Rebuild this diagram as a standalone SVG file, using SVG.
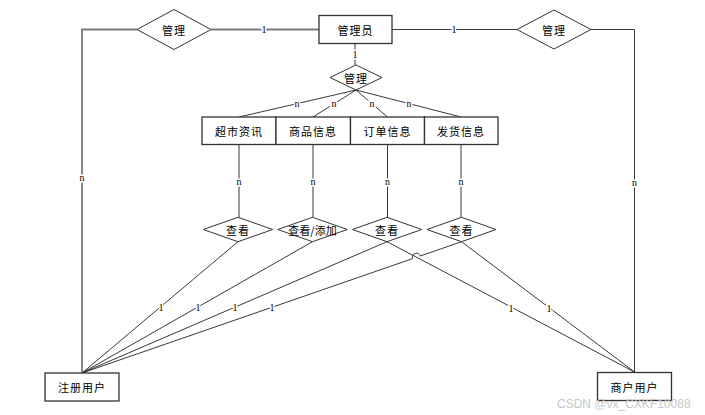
<svg xmlns="http://www.w3.org/2000/svg" width="705" height="415" viewBox="0 0 705 415">
<style>
.bg{fill:#ffffff}
.ent{fill:#ffffff;stroke:#333333;stroke-width:1.3}
.rel{fill:#ffffff;stroke:#333333;stroke-width:1}
.ln{fill:none;stroke:#222222;stroke-width:0.9}
.lng{fill:none;stroke:#7a7a7a;stroke-width:1.8}
.t{font-family:"Noto Sans CJK SC","Noto Sans",sans-serif;font-size:11px;letter-spacing:1px;text-anchor:middle;dominant-baseline:central;fill:#000000}
.lb{font-family:"Liberation Serif",serif;font-size:10px;text-anchor:middle;dominant-baseline:central;fill:#000000;stroke:#ffffff;stroke-width:3;paint-order:stroke}
.wm{font-family:"Liberation Sans",sans-serif;font-size:12px;fill:#c8c8c8}
</style>
<rect class="bg" x="0" y="0" width="705" height="415"/>
<g id="connectors">
  <path class="lng" d="M137,29.5 H82 V373"/>
  <path class="lng" d="M211,29.5 H319"/>
  <path class="ln" d="M392,29.5 H517"/>
  <path class="ln" d="M591,29.5 H634.5 V372"/>
  <path class="ln" d="M355,43 V65"/>
  <path class="ln" d="M356,90 L239,117"/>
  <path class="ln" d="M356,90 L313,117"/>
  <path class="ln" d="M356,90 L387.5,117"/>
  <path class="ln" d="M356,90 L461,117"/>
  <path class="ln" d="M239,144 V217.5"/>
  <path class="ln" d="M313,144 V217.5"/>
  <path class="ln" d="M387.5,144 V217.5"/>
  <path class="ln" d="M461,144 V217.5"/>
  <path class="ln" d="M238,241.7 L82,373"/>
  <path class="ln" d="M312.5,241.7 L82,373"/>
  <path class="ln" d="M387,241.7 L82,373"/>
  <path class="ln" d="M461.5,241.7 L420.3,256 A4,4 0 0 0 412.7,258.6 L82,373"/>
  <path class="ln" d="M387,241.7 L634.5,372"/>
  <path class="ln" d="M461.5,241.7 L634.5,372"/>
  <text class="lb" x="264" y="29.5">1</text>
  <text class="lb" x="454" y="29.5">1</text>
  <text class="lb" x="355" y="54">1</text>
  <text class="lb" x="297" y="103">n</text>
  <text class="lb" x="334" y="103">n</text>
  <text class="lb" x="372" y="103">n</text>
  <text class="lb" x="409" y="103">n</text>
  <text class="lb" x="239" y="181">n</text>
  <text class="lb" x="313" y="181">n</text>
  <text class="lb" x="387.5" y="181">n</text>
  <text class="lb" x="461" y="181">n</text>
  <text class="lb" x="82" y="177">n</text>
  <text class="lb" x="634.5" y="182">n</text>
  <text class="lb" x="161" y="307">1</text>
  <text class="lb" x="198" y="307">1</text>
  <text class="lb" x="235" y="307">1</text>
  <text class="lb" x="272" y="307">1</text>
  <text class="lb" x="511" y="308">1</text>
  <text class="lb" x="549" y="308">1</text>
</g>
<g id="admin"><rect class="ent" x="319" y="15.5" width="73" height="28"/><text class="t" x="355.5" y="29.5">管理员</text></g>
<g id="rel-left"><polygon class="rel" points="137,29.5 174,9.5 211,29.5 174,49.5"/><text class="t" x="174" y="29.5">管理</text></g>
<g id="rel-right"><polygon class="rel" points="517,29.5 554,10 591,29.5 554,49"/><text class="t" x="554" y="29.5">管理</text></g>
<g id="rel-center"><polygon class="rel" points="330,77.5 356,65 382,77.5 356,90"/><text class="t" x="356" y="77.5">管理</text></g>
<g id="ent-news"><rect class="ent" x="202" y="117" width="74" height="27.5"/><text class="t" x="239" y="130.7">超市资讯</text></g>
<g id="ent-goods"><rect class="ent" x="276" y="117" width="74.5" height="27.5"/><text class="t" x="313" y="130.7">商品信息</text></g>
<g id="ent-order"><rect class="ent" x="350.5" y="117" width="74" height="27.5"/><text class="t" x="387.5" y="130.7">订单信息</text></g>
<g id="ent-ship"><rect class="ent" x="424.5" y="117" width="73.5" height="27.5"/><text class="t" x="461" y="130.7">发货信息</text></g>
<g id="rel-view1"><polygon class="rel" points="203.3,229.5 238,217.3 272.7,229.5 238,241.7"/><text class="t" x="238" y="229.5">查看</text></g>
<g id="rel-view2"><polygon class="rel" points="277.7,229.5 312.5,217.3 347.3,229.5 312.5,241.7"/><text class="t" x="312.5" y="229.5" style="letter-spacing:0">查看/添加</text></g>
<g id="rel-view3"><polygon class="rel" points="352.3,229.5 387,217.3 421.7,229.5 387,241.7"/><text class="t" x="387" y="229.5">查看</text></g>
<g id="rel-view4"><polygon class="rel" points="427,229.5 461.5,217.3 496,229.5 461.5,241.7"/><text class="t" x="461.5" y="229.5">查看</text></g>
<g id="user-reg"><rect class="ent" x="45" y="373" width="74" height="28"/><text class="t" x="82" y="387">注册用户</text></g>
<g id="user-shop"><rect class="ent" x="597.5" y="372.5" width="74" height="28"/><text class="t" x="634.5" y="386.5">商户用户</text></g>
<text class="wm" x="557" y="407.5">CSDN @vx_CXKF10088</text>
</svg>
